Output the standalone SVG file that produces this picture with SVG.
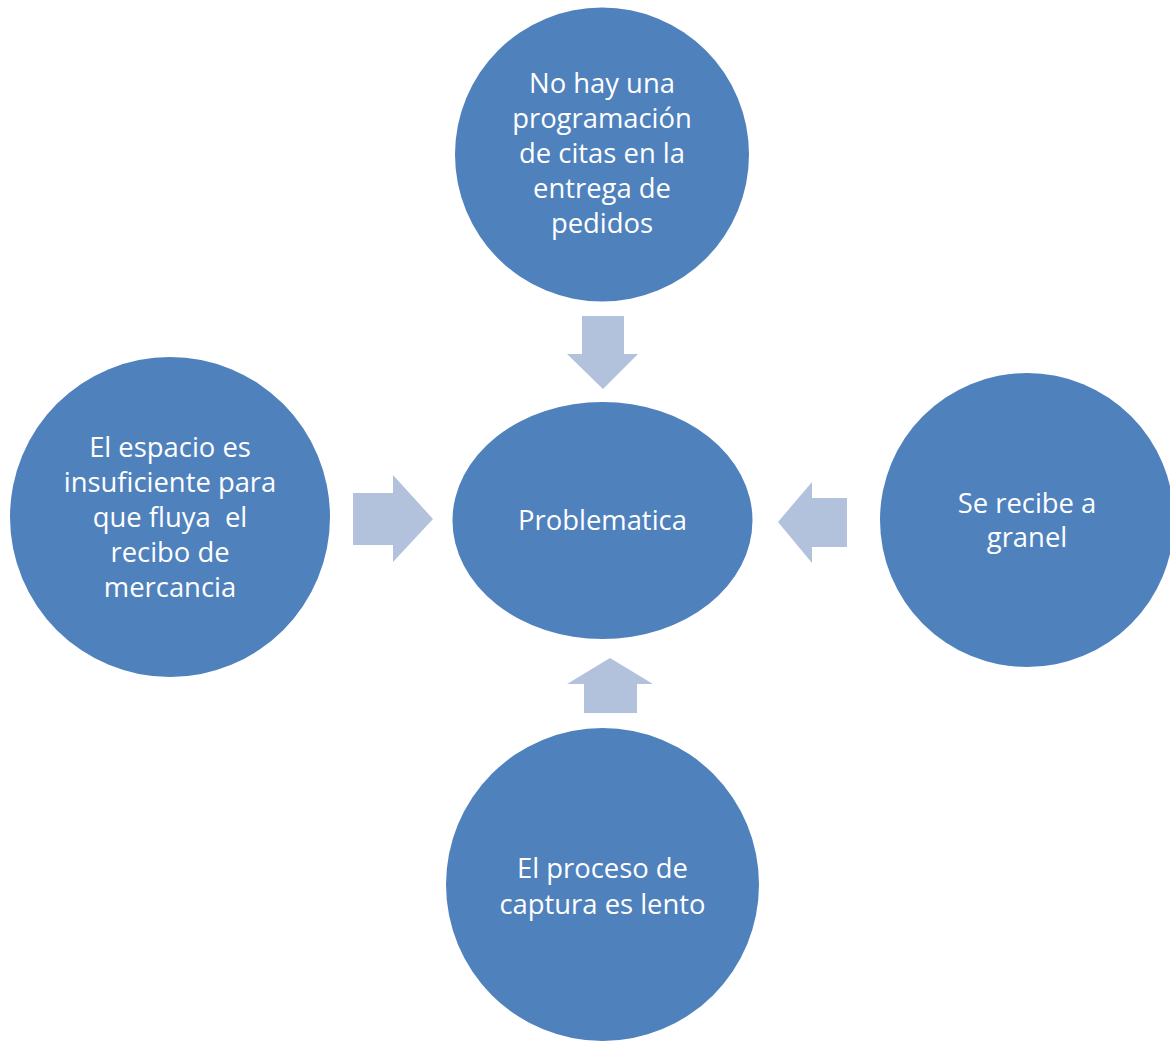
<svg xmlns="http://www.w3.org/2000/svg" width="1170" height="1042" viewBox="0 0 1170 1042">
<style>
.node{fill:#4F81BD}
.lbl{fill:#FFFFFF;font-family:"Open Sans","Liberation Sans",sans-serif;font-size:27.4px;text-anchor:middle}
.arr{fill:#B3C2DC}
</style>
<rect width="1170" height="1042" fill="#FFFFFF"/>
<g id="connectors">
<polygon id="arrow-top" class="arr" points="582,316 624,316 624,354 638,354 603,389 567,354 582,354"/>
<polygon id="arrow-left" class="arr" points="353,493 393,493 393,475 433,519 393,562 393,545 353,545"/>
<polygon id="arrow-right" class="arr" points="847,498 812,498 812,482 778,522 812,563 812,547 847,547"/>
<polygon id="arrow-bottom" class="arr" points="584,713 637,713 637,684 653,684 610,658 567,684 584,684"/>
</g>
<g id="node-top">
<circle class="node" cx="602" cy="154.5" r="147"/>
<text class="lbl" x="602"><tspan x="602" y="93">No hay una</tspan><tspan x="602" y="128">programación</tspan><tspan x="602" y="163">de citas en la</tspan><tspan x="602" y="198">entrega de</tspan><tspan x="602" y="233">pedidos</tspan></text>
</g>
<g id="node-center">
<ellipse class="node" cx="602.5" cy="520.5" rx="150" ry="118.5"/>
<text class="lbl" x="602.5" y="530">Problematica</text>
</g>
<g id="node-left">
<circle class="node" cx="170" cy="517" r="160"/>
<text class="lbl"><tspan x="170" y="457">El espacio es</tspan><tspan x="170" y="492">insuficiente para</tspan><tspan x="170" y="527" xml:space="preserve">que fluya  el</tspan><tspan x="170" y="562">recibo de</tspan><tspan x="170" y="597">mercancia</tspan></text>
</g>
<g id="node-right">
<circle class="node" cx="1027" cy="520" r="147"/>
<text class="lbl"><tspan x="1027" y="513">Se recibe a</tspan><tspan x="1027" y="547">granel</tspan></text>
</g>
<g id="node-bottom">
<circle class="node" cx="602.5" cy="884.5" r="156.5"/>
<text class="lbl"><tspan x="602.5" y="878">El proceso de</tspan><tspan x="602.5" y="914">captura es lento</tspan></text>
</g>
</svg>
